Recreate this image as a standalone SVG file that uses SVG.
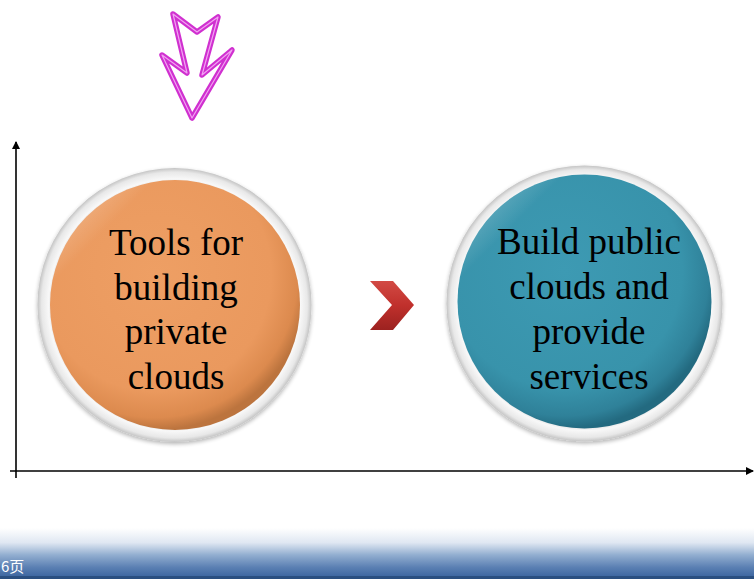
<svg xmlns="http://www.w3.org/2000/svg" width="754" height="579" viewBox="0 0 754 579">
<defs>
<style>
.lbl{font-family:"Liberation Serif","Times New Roman",serif;font-size:37px;fill:#000;text-anchor:middle}
.axis{stroke:#000;stroke-width:1.6;fill:none}
</style>
<marker id="ah" markerWidth="8" markerHeight="8" refX="7" refY="4" orient="auto" markerUnits="userSpaceOnUse">
<path d="M0,0 L8,4 L0,8 Z" fill="#000"/>
</marker>
<radialGradient id="ring" cx="0.5" cy="0.5" r="0.5">
<stop offset="0.88" stop-color="#d4d4d4"/>
<stop offset="0.92" stop-color="#f8f8f8"/>
<stop offset="0.97" stop-color="#e8e8e8"/>
<stop offset="1" stop-color="#c4c4c4"/>
</radialGradient>
<radialGradient id="org" cx="0.42" cy="0.38" r="0.62">
<stop offset="0" stop-color="#ee9f64"/>
<stop offset="0.75" stop-color="#ea995e"/>
<stop offset="0.92" stop-color="#dc8a4e"/>
<stop offset="1" stop-color="#bc743e"/>
</radialGradient>
<radialGradient id="teal" cx="0.42" cy="0.38" r="0.62">
<stop offset="0" stop-color="#3d9ab3"/>
<stop offset="0.75" stop-color="#3893ab"/>
<stop offset="0.92" stop-color="#2f8199"/>
<stop offset="1" stop-color="#236a80"/>
</radialGradient>
<linearGradient id="hl" x1="0" y1="0" x2="0.6" y2="0.6">
<stop offset="0" stop-color="#fff" stop-opacity="0.45"/>
<stop offset="0.35" stop-color="#fff" stop-opacity="0"/>
</linearGradient>
<linearGradient id="band" x1="0" y1="0" x2="0" y2="1">
<stop offset="0" stop-color="#ffffff"/>
<stop offset="0.3" stop-color="#dfe7f2"/>
<stop offset="0.55" stop-color="#92aed0"/>
<stop offset="0.8" stop-color="#5b80b3"/>
<stop offset="1" stop-color="#3c66a0"/>
</linearGradient>
<linearGradient id="chev" x1="0" y1="0" x2="0" y2="1">
<stop offset="0" stop-color="#d24a44"/>
<stop offset="0.5" stop-color="#c0302c"/>
<stop offset="1" stop-color="#9c2220"/>
</linearGradient>
<filter id="sh" x="-10%" y="-10%" width="120%" height="120%">
<feGaussianBlur in="SourceAlpha" stdDeviation="2"/>
<feOffset dx="0" dy="2"/>
<feComponentTransfer><feFuncA type="linear" slope="0.3"/></feComponentTransfer>
<feMerge><feMergeNode/><feMergeNode in="SourceGraphic"/></feMerge>
</filter>
</defs>
<rect width="754" height="579" fill="#fff"/>
<g id="footer">
<rect x="0" y="528" width="754" height="49" fill="url(#band)"/>
<rect x="0" y="576" width="754" height="3" fill="#2a4f80"/>
<text x="1" y="572" font-family="'Noto Sans CJK SC','Liberation Sans',sans-serif" font-size="15" fill="#fff">6页</text>
</g>
<g id="connectors">
<line class="axis" x1="16" y1="478" x2="16" y2="142" marker-end="url(#ah)"/>
<line class="axis" x1="10" y1="471" x2="753" y2="471" marker-end="url(#ah)"/>
</g>
<g id="pink-arrow">
<polygon points="173,14 197,32 218,17 202,75 232,50 192,118 162,55 187,73" fill="none" stroke="#d030d0" stroke-width="5.5" stroke-linejoin="round"/>
<polygon points="173,14 197,32 218,17 202,75 232,50 192,118 162,55 187,73" fill="none" stroke="#f2a2f2" stroke-width="1.2" stroke-linejoin="round"/>
</g>
<g id="node-private">
<circle cx="174.5" cy="305" r="137" fill="url(#ring)" filter="url(#sh)"/>
<circle cx="175" cy="305" r="125" fill="url(#org)"/>
<circle cx="175" cy="305" r="125" fill="url(#hl)"/>
<text class="lbl" x="176" y="255">Tools for</text>
<text class="lbl" x="176" y="300">building</text>
<text class="lbl" x="176" y="344">private</text>
<text class="lbl" x="176" y="389">clouds</text>
</g>
<g id="chevron">
<polygon points="370,281 393,281 414,305 393,330 370,330 392,305" fill="url(#chev)"/>
</g>
<g id="node-public">
<circle cx="584.5" cy="303.5" r="138" fill="url(#ring)" filter="url(#sh)"/>
<circle cx="584.5" cy="301.5" r="127" fill="url(#teal)"/>
<circle cx="584.5" cy="301.5" r="127" fill="url(#hl)"/>
<text class="lbl" x="589" y="254">Build public</text>
<text class="lbl" x="589" y="299">clouds and</text>
<text class="lbl" x="589" y="344">provide</text>
<text class="lbl" x="589" y="389">services</text>
</g>
</svg>
